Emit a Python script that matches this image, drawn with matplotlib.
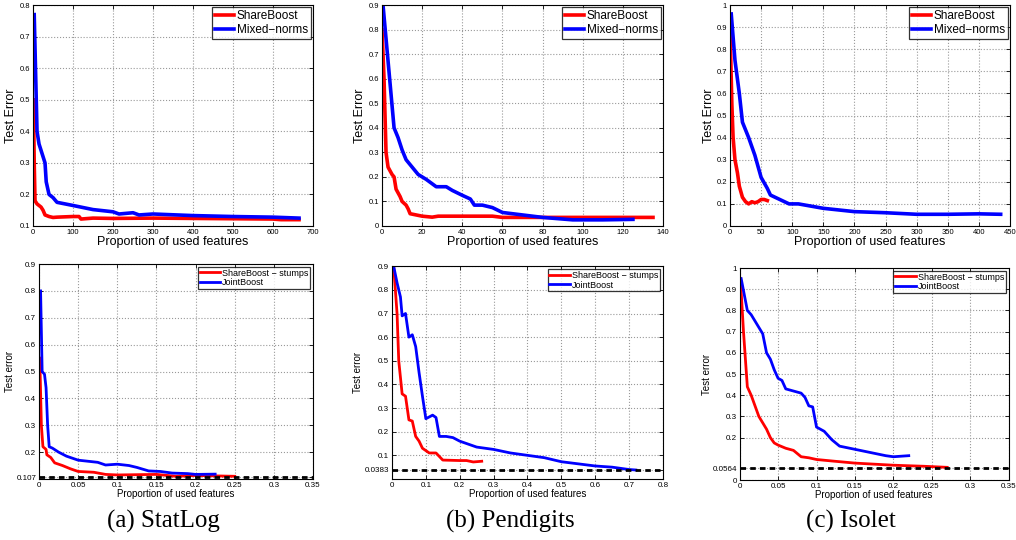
import matplotlib
matplotlib.use("Agg")
from matplotlib import pyplot as plt

plt.rcParams['font.family'] = 'Liberation Sans'

# ---- top row: ShareBoost vs Mixed-norms ----
statlog_sb_x = [1, 3, 5, 10, 20, 25, 30, 40, 50, 60, 100, 115, 120, 150, 200, 300, 400, 500, 600, 620, 665]
statlog_sb_y = [0.5, 0.3, 0.18, 0.17, 0.16, 0.15, 0.135, 0.13, 0.127, 0.128, 0.13, 0.13, 0.122, 0.125, 0.124, 0.125, 0.124, 0.123, 0.122, 0.12, 0.12]
statlog_mn_x = [3, 10, 15, 25, 30, 33, 40, 50, 60, 100, 150, 200, 215, 250, 265, 300, 400, 500, 600, 665]
statlog_mn_y = [0.77, 0.4, 0.36, 0.32, 0.3, 0.24, 0.2, 0.19, 0.175, 0.165, 0.152, 0.145, 0.138, 0.142, 0.135, 0.138, 0.133, 0.13, 0.128, 0.125]

pendig_sb_x = [0, 1, 2, 3, 5, 6, 7, 9, 10, 12, 13, 14, 17, 20, 25, 28, 40, 55, 60, 100, 135]
pendig_sb_y = [0.8, 0.6, 0.3, 0.24, 0.21, 0.2, 0.15, 0.12, 0.1, 0.085, 0.07, 0.05, 0.045, 0.04, 0.036, 0.04, 0.04, 0.04, 0.035, 0.035, 0.035]
pendig_mn_x = [0.5, 6, 8, 10, 12, 15, 18, 22, 27, 32, 35, 40, 44, 46, 50, 55, 60, 70, 80, 95, 110, 125]
pendig_mn_y = [0.9, 0.4, 0.36, 0.31, 0.27, 0.24, 0.21, 0.19, 0.16, 0.16, 0.145, 0.125, 0.11, 0.085, 0.085, 0.075, 0.055, 0.045, 0.035, 0.025, 0.025, 0.027]

isolet_sb_x = [0, 3, 5, 8, 12, 15, 20, 25, 30, 35, 40, 45, 50, 55, 60]
isolet_sb_y = [0.9, 0.55, 0.4, 0.3, 0.24, 0.18, 0.13, 0.11, 0.1, 0.11, 0.105, 0.11, 0.12, 0.12, 0.115]
isolet_mn_x = [2, 8, 15, 20, 30, 40, 50, 60, 65, 80, 95, 110, 150, 200, 250, 300, 350, 400, 435]
isolet_mn_y = [0.96, 0.75, 0.6, 0.47, 0.4, 0.32, 0.22, 0.17, 0.14, 0.12, 0.1, 0.1, 0.08, 0.065, 0.06, 0.053, 0.053, 0.055, 0.053]

# ---- bottom row: ShareBoost stumps vs JointBoost ----
statlog_st_x = [0.001, 0.003, 0.005, 0.009, 0.01, 0.015, 0.02, 0.03, 0.04, 0.05, 0.07, 0.085, 0.1, 0.15, 0.175, 0.2, 0.25]
statlog_st_y = [0.55, 0.3, 0.22, 0.21, 0.19, 0.18, 0.16, 0.15, 0.138, 0.128, 0.125, 0.117, 0.115, 0.117, 0.11, 0.113, 0.11]
statlog_jb_x = [0.002, 0.004, 0.007, 0.009, 0.011, 0.013, 0.017, 0.025, 0.035, 0.045, 0.05, 0.075, 0.085, 0.1, 0.115, 0.125, 0.14, 0.155, 0.17, 0.19, 0.2, 0.225]
statlog_jb_y = [0.8, 0.5, 0.49, 0.44, 0.3, 0.22, 0.215, 0.2, 0.185, 0.175, 0.17, 0.162, 0.152, 0.155, 0.15, 0.143, 0.13, 0.128, 0.122, 0.12, 0.117, 0.118]
statlog_best = 0.107

pendig_st_x = [0.005, 0.015, 0.02, 0.03, 0.04, 0.05, 0.06, 0.07, 0.08, 0.09, 0.1, 0.11, 0.13, 0.15, 0.2, 0.22, 0.24, 0.265]
pendig_st_y = [0.9, 0.7, 0.5, 0.36, 0.35, 0.25, 0.245, 0.18, 0.16, 0.13, 0.12, 0.11, 0.11, 0.08, 0.078, 0.078, 0.072, 0.075]
pendig_jb_x = [0.005, 0.015, 0.025, 0.03, 0.04, 0.05, 0.06, 0.07, 0.08, 0.09, 0.1, 0.12, 0.13, 0.14, 0.16, 0.18, 0.2, 0.25, 0.3, 0.35, 0.4, 0.45, 0.5, 0.6, 0.65, 0.7, 0.72]
pendig_jb_y = [0.9, 0.83, 0.77, 0.69, 0.7, 0.6, 0.61, 0.56, 0.45, 0.35, 0.255, 0.27, 0.26, 0.18, 0.18, 0.175, 0.16, 0.135, 0.125, 0.11, 0.1, 0.09, 0.073, 0.055, 0.05, 0.04, 0.038]
pendig_best = 0.0383

isolet_st_x = [0.001, 0.005, 0.01, 0.015, 0.02, 0.025, 0.03, 0.035, 0.04, 0.045, 0.05, 0.06, 0.07, 0.08, 0.09, 0.1, 0.12, 0.15, 0.2, 0.24, 0.27]
isolet_st_y = [0.95, 0.7, 0.44, 0.4, 0.35, 0.3, 0.27, 0.24, 0.2, 0.175, 0.165, 0.15, 0.14, 0.11, 0.105, 0.097, 0.09, 0.08, 0.07, 0.065, 0.06]
isolet_jb_x = [0.002, 0.01, 0.015, 0.02, 0.03, 0.035, 0.04, 0.045, 0.05, 0.055, 0.06, 0.07, 0.08, 0.085, 0.09, 0.095, 0.1, 0.11, 0.12, 0.13, 0.15, 0.17, 0.19, 0.2, 0.22]
isolet_jb_y = [0.95, 0.8, 0.78, 0.75, 0.69, 0.6, 0.57, 0.52, 0.48, 0.47, 0.43, 0.42, 0.41, 0.39, 0.35, 0.345, 0.25, 0.23, 0.19, 0.16, 0.145, 0.13, 0.115, 0.11, 0.115]
isolet_best = 0.0564

captions = ['(a) StatLog', '(b) Pendigits', '(c) Isolet']

fig = plt.figure(figsize=(10.16, 5.40), dpi=100)


def style(ax, fs):
    ax.grid(True, linestyle=':', color='#999999', linewidth=0.8)
    ax.tick_params(direction='in', top=True, right=True, labelsize=fs, length=3, width=0.6, pad=2)
    for s in ax.spines.values():
        s.set_linewidth(0.8)


# Top row
top = [
    ([0.0325, 0.5815, 0.2756, 0.409], statlog_sb_x, statlog_sb_y, statlog_mn_x, statlog_mn_y, (0, 700), (0.1, 0.8), [0.1, 0.2, 0.3, 0.4, 0.5, 0.6, 0.7, 0.8], range(0, 701, 100), -0.057),
    ([0.376, 0.5815, 0.2766, 0.409], pendig_sb_x, pendig_sb_y, pendig_mn_x, pendig_mn_y, (0, 140), (0, 0.9), [0, 0.1, 0.2, 0.3, 0.4, 0.5, 0.6, 0.7, 0.8, 0.9], range(0, 141, 20), -0.057),
    ([0.7185, 0.5815, 0.2756, 0.409], isolet_sb_x, isolet_sb_y, isolet_mn_x, isolet_mn_y, (0, 450), (0, 1), [0, 0.1, 0.2, 0.3, 0.4, 0.5, 0.6, 0.7, 0.8, 0.9, 1], range(0, 451, 50), -0.054),
]
for pos, sx, sy, mx, my, xl, yl, yt, xt, ylx in top:
    ax = fig.add_axes(pos)
    ax.plot(sx, sy, color='red', lw=2.6, label='ShareBoost')
    ax.plot(mx, my, color='blue', lw=2.6, label='Mixed\u2212norms')
    ax.set_xlim(xl)
    ax.set_ylim(yl)
    ax.set_yticks(yt)
    ax.set_yticklabels(['%g' % v for v in yt])
    ax.set_xticks(list(xt))
    style(ax, 5.5)
    ax.set_xlabel('Proportion of used features', fontsize=9, labelpad=0)
    ax.set_ylabel('Test Error', fontsize=9)
    ax.yaxis.set_label_coords(ylx, 0.5)
    leg = ax.legend(loc='upper right', fontsize=8.5, frameon=True, fancybox=False,
                    borderaxespad=0.2, handlelength=1.6, borderpad=0.25, labelspacing=0.15,
                    handletextpad=0.2)
    leg.get_frame().set_edgecolor('black')
    leg.get_frame().set_linewidth(0.9)

# Bottom row
bottom = [
    ([0.0384, 0.113, 0.2697, 0.398], statlog_st_x, statlog_st_y, statlog_jb_x, statlog_jb_y, statlog_best, (0, 0.35), (0.1, 0.9), [statlog_best, 0.2, 0.3, 0.4, 0.5, 0.6, 0.7, 0.8, 0.9], [0, 0.05, 0.1, 0.15, 0.2, 0.25, 0.3, 0.35], -0.088),
    ([0.3858, 0.113, 0.2667, 0.394], pendig_st_x, pendig_st_y, pendig_jb_x, pendig_jb_y, pendig_best, (0, 0.8), (0, 0.9), [pendig_best, 0.1, 0.2, 0.3, 0.4, 0.5, 0.6, 0.7, 0.8, 0.9], [0, 0.1, 0.2, 0.3, 0.4, 0.5, 0.6, 0.7, 0.8], -0.107),
    ([0.728, 0.111, 0.2648, 0.3926], isolet_st_x, isolet_st_y, isolet_jb_x, isolet_jb_y, isolet_best, (0, 0.35), (0, 1), [0, isolet_best, 0.2, 0.3, 0.4, 0.5, 0.6, 0.7, 0.8, 0.9, 1], [0, 0.05, 0.1, 0.15, 0.2, 0.25, 0.3, 0.35], -0.104),
]
for pos, sx, sy, jx, jy, best, xl, yl, yt, xt, ylx in bottom:
    ax = fig.add_axes(pos)
    ax.plot(sx, sy, color='red', lw=2.0, label='ShareBoost \u2212 stumps')
    ax.plot(jx, jy, color='blue', lw=2.0, label='JointBoost')
    ax.plot(xl, [best, best], color='black', lw=2.0, linestyle=(0, (2, 1.5)))
    ax.set_xlim(xl)
    ax.set_ylim(yl)
    ax.set_yticks(yt)
    ax.set_yticklabels(['%g' % v for v in yt])
    ax.set_xticks(xt)
    ax.set_xticklabels(['%g' % v for v in xt])
    style(ax, 5.8)
    ax.set_xlabel('Proportion of used features', fontsize=7, labelpad=0)
    ax.set_ylabel('Test error', fontsize=7)
    ax.yaxis.set_label_coords(ylx, 0.5)
    leg = ax.legend(loc='upper right', fontsize=6.5, frameon=True, fancybox=False,
                    borderaxespad=0.3, handlelength=2.3, borderpad=0.2, labelspacing=0.1,
                    handletextpad=0.2)
    leg.get_frame().set_edgecolor('black')
    leg.get_frame().set_linewidth(0.9)

for xc, txt in zip([0.161, 0.502, 0.837], captions):
    fig.text(xc, 0.035, txt, ha='center', va='center', fontsize=18, family='Liberation Serif')

fig.savefig('out.png', dpi=100)
